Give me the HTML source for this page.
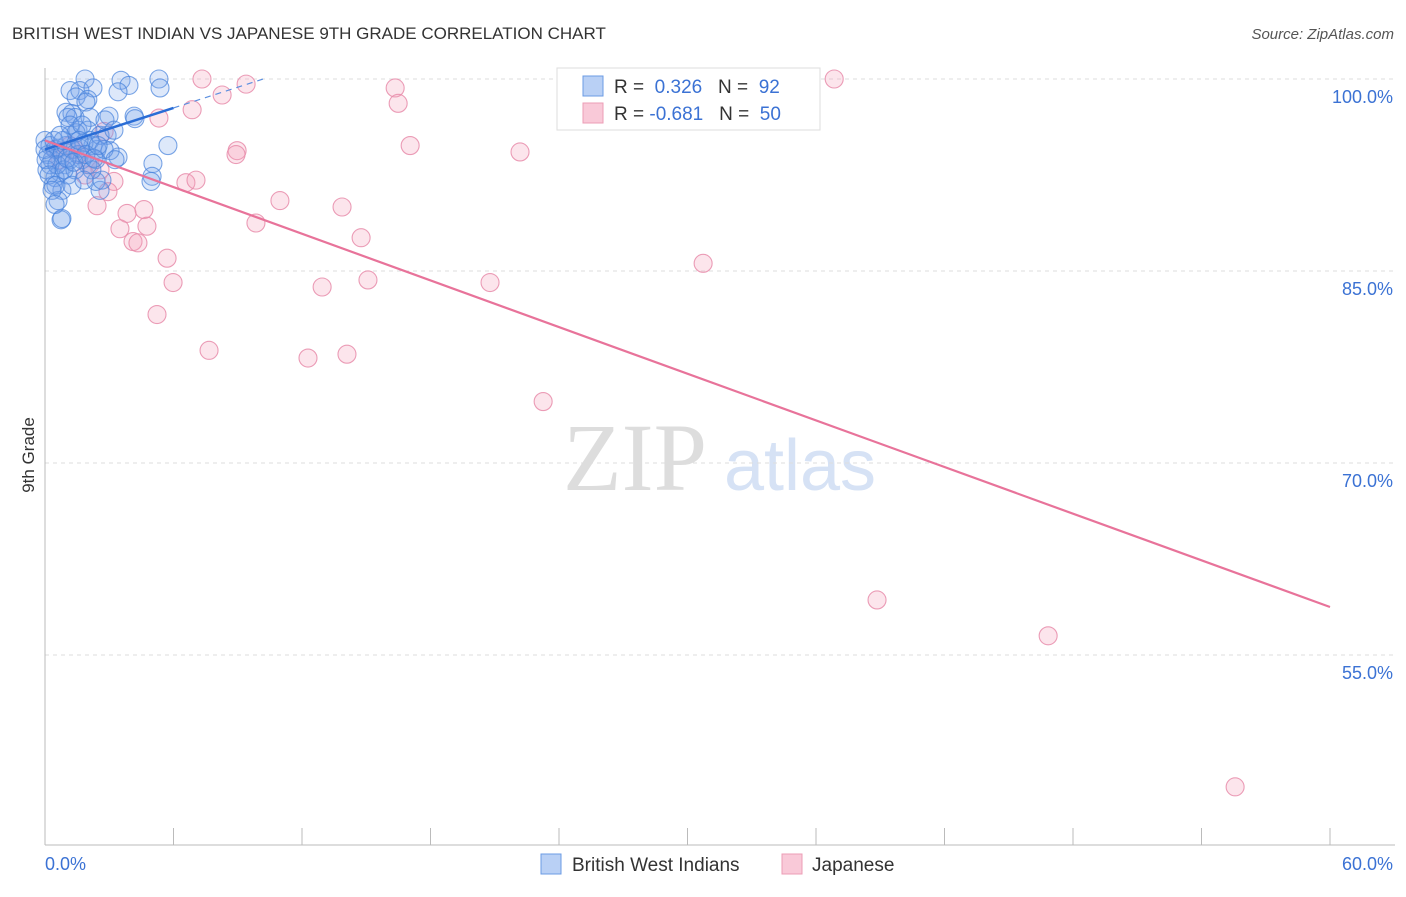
<!DOCTYPE html>
<html><head><meta charset="utf-8"><style>
body{margin:0;background:#fff;font-family:"Liberation Sans",sans-serif}
</style></head><body>
<svg width="1406" height="892" xmlns="http://www.w3.org/2000/svg" style="font-family:'Liberation Sans',sans-serif">
<text x="12" y="39" font-size="17" fill="#333">BRITISH WEST INDIAN VS JAPANESE 9TH GRADE CORRELATION CHART</text>
<text x="1394" y="39" font-size="15" fill="#555" font-style="italic" text-anchor="end">Source: ZipAtlas.com</text>
<g><text x="635" y="490" font-size="96" fill="#ddd" text-anchor="middle" font-family="Liberation Serif,serif">ZIP</text><text x="800" y="490" font-size="72" fill="#d6e2f5" text-anchor="middle">atlas</text></g>
<g id="grid"></g><g id="axes"></g><g id="pts"></g><g id="lines"></g>
<text transform="translate(34,455) rotate(-90)" font-size="17" fill="#333" text-anchor="middle">9th Grade</text>
<text x="45" y="870" font-size="18" fill="#3b72d4">0.0%</text>
<text x="1393" y="870" font-size="18" fill="#3b72d4" text-anchor="end">60.0%</text>
<g>
<rect x="557" y="68" width="263" height="62" fill="#fff" stroke="#ddd"/>
<rect x="583" y="76" width="20" height="20" fill="#b9d0f5" stroke="#6b9be4"/>
<rect x="583" y="103" width="20" height="20" fill="#f9c9d8" stroke="#ec9db6"/>
<text x="614" y="93" font-size="19" fill="#333">R = <tspan fill="#3b72d4">&#160;0.326</tspan>&#160;&#160;&#160;N = <tspan fill="#3b72d4">&#160;92</tspan></text>
<text x="614" y="120" font-size="19" fill="#333">R = <tspan fill="#3b72d4">-0.681</tspan>&#160;&#160;&#160;N = <tspan fill="#3b72d4">&#160;50</tspan></text>
</g>
<g>
<rect x="541" y="854" width="20" height="20" fill="#b9d0f5" stroke="#6b9be4"/>
<text x="572" y="871" font-size="19" fill="#333">British West Indians</text>
<rect x="782" y="854" width="20" height="20" fill="#f9c9d8" stroke="#ec9db6"/>
<text x="812" y="871" font-size="19" fill="#333">Japanese</text>
</g>
</svg>
<script>
const yTicks=[100,85,70,55];
const yTickLabels=["100.0%","85.0%","70.0%","55.0%"];
const xTicks=[0,6,12,18,24,30,36,42,48,54,60];
const blueX=[1.87,3.55,5.32,3.92,5.37,1.17,1.63,2.24,3.41,1.45,2.0,0.98,1.26,1.4,1.91,2.99,4.16,4.2,2.1,2.9,1.54,1.07,1.17,2.0,5.74,5.04,5.0,4.95,3.41,3.04,2.43,2.24,2.38,1.82,1.45,2.57,0,.23,.47,.14,.33,.61,.79,.93,1.17,.7,.47,.37,.79,.61,.75,.79,2.57,2.38,2.66,.23,0,.09,.42,.98,1.26,1.54,1.73,2.0,2.19,1.07,1.4,1.63,.56,.84,1.17,1.73,2.1,2.76,3.27,.05,.19,.51,.89,1.03,1.35,1.59,1.91,2.29,2.48,.7,.33,.47,1.26,1.82,2.8,3.22];
const blueY=[100,99.9,100,99.5,99.3,99.1,99.1,99.3,99.0,98.6,98.4,97.4,97.3,97.0,98.2,97.1,97.1,96.9,97.0,95.6,96.0,97.0,95.6,96.0,94.8,93.4,92.4,92.0,93.9,94.4,94.5,94.8,93.7,95.0,95.8,95.6,95.2,94.8,94.5,94.1,93.7,94.6,94.1,93.3,93.7,92.7,92.3,91.7,91.3,90.5,89.0,89.1,91.3,92.0,92.1,93.3,94.5,92.9,95.2,94.8,94.5,94.1,93.7,93.3,92.9,92.5,92.9,94.6,93.3,95.2,96.4,96.4,95.2,94.5,93.7,93.7,92.5,91.7,92.9,93.8,93.5,95.2,94.1,93.8,94.8,95.6,91.3,90.2,91.7,92.1,96.8,96.0];
const pinkX=[7.33,9.39,8.27,16.35,16.49,6.87,5.32,2.76,8.97,8.92,17.05,22.18,36.85,3.22,6.58,7.05,2.94,2.43,10.97,13.87,3.83,4.62,9.85,4.76,3.5,14.76,4.11,4.34,5.7,30.73,5.98,12.94,15.08,20.78,5.23,7.66,12.28,14.1,23.26,38.85,46.84,55.57,1.63,2.1,1.4,0.7,2.57,1.17,1.87,0.47];
const pinkY=[100,99.6,98.75,99.3,98.1,97.6,96.95,95.9,94.4,94.1,94.8,94.3,100,92.0,91.9,92.1,91.2,90.1,90.5,90.0,89.5,89.8,88.75,88.5,88.3,87.6,87.3,87.2,86.0,85.6,84.1,83.75,84.3,84.1,81.6,78.8,78.2,78.5,74.8,59.3,56.5,44.7,94.1,93.3,94.5,93.7,92.9,94.8,92.5,94.5];
const blueTrend=[94.5,0.54];
const pinkTrend=[95.2,-0.6075];
const X=v=>45+v*1285/60, Y=v=>79+(100-v)*12.8;
const NS="http://www.w3.org/2000/svg";
function mk(t,a,p){const e=document.createElementNS(NS,t);for(const k in a)e.setAttribute(k,a[k]);document.getElementById(p).appendChild(e);return e;}
yTicks.forEach((t,i)=>{
 const l=mk('line',{x1:45,x2:1395,y1:Y(t),y2:Y(t),stroke:'#ddd','stroke-dasharray':'4,4'},'grid');
 
 
 const tx=mk('text',{x:1393,y:Y(t)+24,'font-size':18,fill:'#3b72d4','text-anchor':'end'},'grid');
 tx.textContent=yTickLabels[i];
 
 
});
const ax=mk('line',{x1:45,x2:45,y1:68,y2:845,stroke:'#bbb'},'axes');


const bx=mk('line',{x1:45,x2:1395,y1:845,y2:845,stroke:'#bbb'},'axes');


xTicks.forEach(t=>{const l=mk('line',{x1:X(t),x2:X(t),y1:828,y2:845,stroke:'#bbb'},'axes');
 
 });
function pts(xs,ys,f,s,n){xs.forEach((x,i)=>{const c=mk('circle',{cx:X(x),cy:Y(ys[i]),r:9,fill:f,stroke:s,'stroke-width':1.1},'pts');
 
 });}
pts(pinkX,pinkY,'rgba(244,160,188,0.28)','rgba(232,140,170,0.85)','point-japanese');
pts(blueX,blueY,'rgba(120,165,235,0.25)','rgba(70,130,220,0.7)','point-bwi');
const f=(tr,x)=>tr[0]+tr[1]*x;
let l=mk('line',{x1:X(0),y1:Y(f(blueTrend,0)),x2:X(6),y2:Y(f(blueTrend,6)),stroke:'#2a6dd6','stroke-width':2.5},'lines');


l=mk('line',{x1:X(6),y1:Y(f(blueTrend,6)),x2:X(10.3),y2:Y(f(blueTrend,10.3)),stroke:'#5b8fe0','stroke-width':1.2,'stroke-dasharray':'6,5'},'lines');


l=mk('line',{x1:X(0),y1:Y(f(pinkTrend,0)),x2:X(60),y2:Y(f(pinkTrend,60)),stroke:'#e8739a','stroke-width':2.2},'lines');


</script>
</body></html>
